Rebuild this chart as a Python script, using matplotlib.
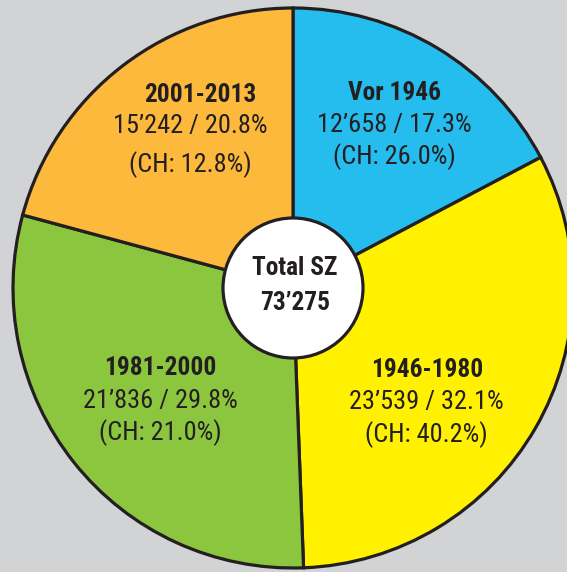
import matplotlib
matplotlib.use("Agg")
import matplotlib.pyplot as plt
from matplotlib.patches import Circle
from matplotlib import font_manager

# Data
periods = ["Vor 1946", "1946-1980", "1981-2000", "2001-2013"]
counts = [12658, 23539, 21836, 15242]
shares = ["17.3%", "32.1%", "29.8%", "20.8%"]
ch_shares = ["26.0%", "40.2%", "21.0%", "12.8%"]
count_labels = ["12\u2019658", "23\u2019539", "21\u2019836", "15\u2019242"]
total_label = "73\u2019275"

colors = ["#25bcee", "#fff100", "#8cc63f", "#fdb93c"]
edge = "#231f20"
bg = "#d1d3d4"

# prefer a condensed face, the original uses Helvetica Condensed
names = {f.name for f in font_manager.fontManager.ttflist}
family = "DejaVu Sans"
for cand in ["Roboto Condensed", "Liberation Sans Narrow", "Open Sans Condensed", "Roboto"]:
    if cand in names:
        family = cand
        break
plt.rcParams["font.family"] = [family, "DejaVu Sans"]

W, H = 567, 572
CX, CY, R = 293, 288, 280  # pie centre / radius in pixels

fig = plt.figure(figsize=(W / 100, H / 100), dpi=100, facecolor=bg)
ax = fig.add_axes([0, 0, 1, 1])
ax.set_facecolor(bg)

ax.pie(counts, colors=colors, startangle=90, counterclock=False, radius=1,
       wedgeprops=dict(edgecolor=edge, linewidth=2.3))
ax.set_aspect("auto")
ax.set_xlim(-CX / R, (W - CX) / R)
ax.set_ylim(-(H - CY) / R, CY / R)
ax.axis("off")


def px(x, y):
    return (x - CX) / R, (CY - y) / R


# label blocks: x of the three lines, y of the three lines (pixels)
label_pos = [
    ([394, 394, 394], [93, 125, 157]),
    ([427, 426, 426], [370, 402, 435]),
    ([160, 160, 160], [368, 401, 433]),
    ([200, 190, 190], [95, 126, 165]),
]

for name, cl, sh, ch, (xs, ys) in zip(periods, count_labels, shares, ch_shares, label_pos):
    ax.text(*px(xs[0], ys[0]), name, ha="center", va="center", fontsize=18.3,
            fontweight="bold", color=edge)
    ax.text(*px(xs[1], ys[1]), f"{cl} / {sh}", ha="center", va="center",
            fontsize=19, color=edge)
    ax.text(*px(xs[2], ys[2]), f"(CH: {ch})", ha="center", va="center",
            fontsize=19, color=edge)

ax.add_patch(Circle((0, 0), 70 / R, facecolor="white", edgecolor=edge,
                    linewidth=2.3, zorder=5))
ax.text(*px(295, 268), "Total SZ", ha="center", va="center", fontsize=18.3,
        fontweight="bold", color=edge, zorder=6)
ax.text(*px(295, 303), total_label, ha="center", va="center", fontsize=18.3,
        fontweight="bold", color=edge, zorder=6)

fig.savefig("out.png", dpi=100, facecolor=bg)
